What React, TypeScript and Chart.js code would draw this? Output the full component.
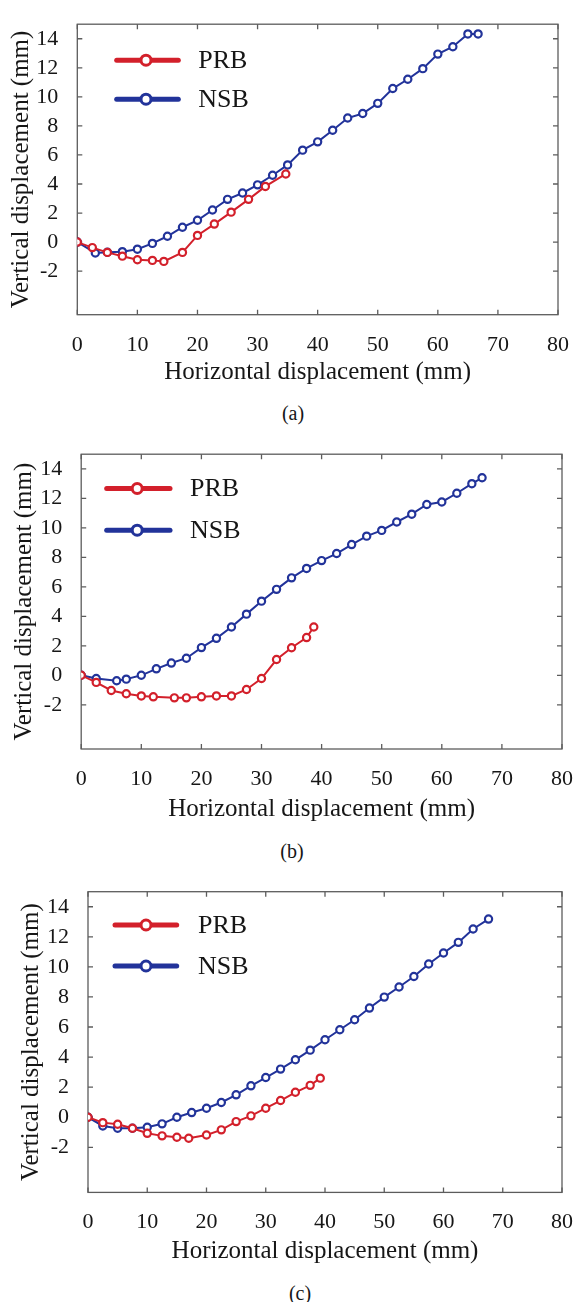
import React, { useEffect, useRef } from 'react';
import { Chart, registerables } from 'chart.js';

Chart.register(...registerables);

// ---------- data ----------
const seriesNames = ['PRB', 'NSB'];
const xTickValues = [0, 10, 20, 30, 40, 50, 60, 70, 80];
const yTickValues = [-2, 0, 2, 4, 6, 8, 10, 12, 14];
const panelCaptions = ['(a)', '(b)', '(c)'];
const xAxisTitle = 'Horizontal displacement (mm)';
const yAxisTitle = 'Vertical displacement (mm)';

// panel (a)
const prbAX = [0, 2.5, 5, 7.5, 10, 12.5, 14.4, 17.5, 20, 22.8, 25.6, 28.5, 31.3, 34.7];
const prbAY = [0, -0.38, -0.71, -0.97, -1.22, -1.26, -1.33, -0.71, 0.46, 1.24, 2.06, 2.94, 3.83, 4.69];
const nsbAX = [0, 3, 5, 7.5, 10, 12.5, 15, 17.5, 20, 22.5, 25, 27.5, 30, 32.5, 35, 37.5, 40, 42.5, 45, 47.5, 50, 52.5, 55, 57.5, 60, 62.5, 65, 66.7];
const nsbAY = [0, -0.75, -0.7, -0.66, -0.49, -0.09, 0.4, 1.02, 1.5, 2.21, 2.94, 3.38, 3.94, 4.6, 5.31, 6.33, 6.9, 7.7, 8.54, 8.85, 9.55, 10.57, 11.21, 11.94, 12.94, 13.45, 14.33, 14.33];

// panel (b)
const prbBX = [0, 2.5, 5, 7.5, 10, 12, 15.5, 17.5, 20, 22.5, 25, 27.5, 30, 32.5, 35, 37.5, 38.7];
const prbBY = [0, -0.48, -1.03, -1.25, -1.4, -1.46, -1.53, -1.53, -1.46, -1.4, -1.4, -0.96, -0.22, 1.07, 1.87, 2.56, 3.28];
const nsbBX = [0, 2.5, 5.9, 7.5, 10, 12.5, 15, 17.5, 20, 22.5, 25, 27.5, 30, 32.5, 35, 37.5, 40, 42.5, 45, 47.5, 50, 52.5, 55, 57.5, 60, 62.5, 65, 66.7];
const nsbBY = [0, -0.22, -0.37, -0.26, 0.0, 0.44, 0.83, 1.16, 1.88, 2.51, 3.28, 4.15, 5.03, 5.83, 6.61, 7.25, 7.78, 8.26, 8.87, 9.44, 9.83, 10.4, 10.93, 11.59, 11.76, 12.35, 13.0, 13.4];

// panel (c)
const prbCX = [0, 2.5, 5, 7.5, 10, 12.5, 15, 17, 20, 22.5, 25, 27.5, 30, 32.5, 35, 37.5, 39.2];
const prbCY = [0, -0.36, -0.47, -0.73, -1.07, -1.24, -1.33, -1.4, -1.18, -0.84, -0.29, 0.09, 0.6, 1.11, 1.66, 2.12, 2.6];
const nsbCX = [0, 2.5, 5, 7.5, 10, 12.5, 15, 17.5, 20, 22.5, 25, 27.5, 30, 32.5, 35, 37.5, 40, 42.5, 45, 47.5, 50, 52.5, 55, 57.5, 60, 62.5, 65, 67.6];
const nsbCY = [0, -0.58, -0.73, -0.73, -0.67, -0.44, 0.0, 0.31, 0.6, 0.98, 1.49, 2.09, 2.64, 3.2, 3.82, 4.46, 5.15, 5.82, 6.48, 7.26, 7.99, 8.66, 9.36, 10.19, 10.92, 11.63, 12.52, 13.18];

const panelSeries = [
  [[prbAX, prbAY], [nsbAX, nsbAY]],
  [[prbBX, prbBY], [nsbBX, nsbBY]],
  [[prbCX, prbCY], [nsbCX, nsbCY]],
];

// ---------- layout / style ----------
const PAGE_W = 582;
const FONT = "'Liberation Serif', 'Times New Roman', serif";
const COLORS = ['#d3202b', '#22339a'];
const TEXT = '#161616';

const layouts = [
  { top: 0, height: 400, plotL: 77.3, plotR: 558, plotT: 13.3, plotB: 314.7, xTitleY: 372.5, yTitleX: 21, capY: 413, capX: 293,
    legend: { lineStart: 39.4, lineEnd: 101, marker: 68.7, text: 121, rows: [36, 75] } },
  { top: 430, height: 400, plotL: 81.2, plotR: 567.5, plotT: 444, plotB: 749, xTitleY: 809, yTitleX: 24, capY: 851, capX: 292,
    legend: { lineStart: 25.5, lineEnd: 88.8, marker: 56, text: 108.8, rows: [34.3, 76] } },
  { top: 860, height: 410, plotL: 88, plotR: 568.3, plotT: 891.7, plotB: 1192.4, xTitleY: 1251, yTitleX: 31, capY: 1293, capX: 300,
    legend: { lineStart: 27, lineEnd: 88.7, marker: 58, text: 110, rows: [33.3, 74.3] } },
];

const frameTicksPlugin = {
  id: 'frameTicks',
  beforeDatasetsDraw(chart: any) {
    const { ctx, chartArea } = chart;
    const { left, right, top, bottom } = chartArea;
    const xs = chart.scales.x;
    const ys = chart.scales.y;
    ctx.save();
    ctx.strokeStyle = '#5c5c5c';
    ctx.lineWidth = 1.3;
    ctx.strokeRect(left, top, right - left, bottom - top);
    const L = 5;
    ctx.beginPath();
    xTickValues.forEach((v) => {
      const px = xs.getPixelForValue(v);
      ctx.moveTo(px, bottom);
      ctx.lineTo(px, bottom - L);
      ctx.moveTo(px, top);
      ctx.lineTo(px, top + L);
    });
    yTickValues.forEach((v) => {
      const py = ys.getPixelForValue(v);
      ctx.moveTo(left, py);
      ctx.lineTo(left + L, py);
      ctx.moveTo(right, py);
      ctx.lineTo(right - L, py);
    });
    ctx.stroke();
    ctx.restore();
  },
};

const insideLegendPlugin = {
  id: 'insideLegend',
  afterDatasetsDraw(chart: any, _args: any, opts: any) {
    const { ctx, chartArea } = chart;
    chart.data.datasets.forEach((ds: any, i: number) => {
      const yy = chartArea.top + opts.rows[i];
      ctx.save();
      ctx.strokeStyle = ds.borderColor;
      ctx.lineWidth = 5;
      ctx.lineCap = 'round';
      ctx.beginPath();
      ctx.moveTo(chartArea.left + opts.lineStart, yy);
      ctx.lineTo(chartArea.left + opts.lineEnd, yy);
      ctx.stroke();
      ctx.beginPath();
      ctx.arc(chartArea.left + opts.marker, yy, 5, 0, Math.PI * 2);
      ctx.fillStyle = '#ffffff';
      ctx.fill();
      ctx.lineWidth = 3;
      ctx.stroke();
      ctx.fillStyle = TEXT;
      ctx.font = `26px ${FONT}`;
      ctx.textAlign = 'left';
      ctx.textBaseline = 'middle';
      ctx.fillText(ds.label, chartArea.left + opts.text, yy + 1);
      ctx.restore();
    });
  },
};

function Panel({ index }: { index: number }) {
  const ref = useRef<HTMLCanvasElement | null>(null);
  const p = layouts[index];

  useEffect(() => {
    if (!ref.current) return;
    const datasets = panelSeries[index].map(([xs, ys], i) => ({
      label: seriesNames[i],
      data: xs.map((x, k) => ({ x, y: ys[k] })),
      borderColor: COLORS[i],
      backgroundColor: COLORS[i],
      borderWidth: 2,
      pointRadius: 3.6,
      pointBorderWidth: 2.2,
      pointBackgroundColor: '#ffffff',
      pointBorderColor: COLORS[i],
      tension: 0,
      fill: false,
    }));
    const chart = new Chart(ref.current, {
      type: 'line',
      data: { datasets },
      plugins: [frameTicksPlugin, insideLegendPlugin],
      options: {
        animation: false,
        responsive: false,
        maintainAspectRatio: false,
        layout: { padding: { top: p.plotT - p.top, right: PAGE_W - p.plotR, left: 0, bottom: 0 } },
        plugins: {
          legend: { display: false },
          tooltip: { enabled: false },
          insideLegend: p.legend,
        } as any,
        scales: {
          x: {
            type: 'linear',
            min: 0,
            max: 80,
            afterBuildTicks: (s: any) => {
              s.ticks = xTickValues.map((v) => ({ value: v }));
            },
            afterFit: (s: any) => {
              s.height = p.top + p.height - p.plotB;
            },
            grid: { display: false },
            border: { display: false },
            ticks: { padding: 9, color: TEXT, font: { family: FONT, size: 22 }, maxRotation: 0, autoSkip: false },
            title: {
              display: true,
              text: xAxisTitle,
              color: TEXT,
              font: { family: FONT, size: 25 },
              padding: { top: 0, bottom: p.top + p.height - p.xTitleY - 15 },
            },
          },
          y: {
            type: 'linear',
            min: -5,
            max: 15,
            afterBuildTicks: (s: any) => {
              s.ticks = yTickValues.map((v) => ({ value: v }));
            },
            afterFit: (s: any) => {
              s.width = p.plotL;
            },
            grid: { display: false },
            border: { display: false },
            ticks: { padding: 11, color: TEXT, font: { family: FONT, size: 22 }, autoSkip: false },
            title: {
              display: true,
              text: yAxisTitle,
              color: TEXT,
              font: { family: FONT, size: 25 },
              padding: { top: p.yTitleX - 15, bottom: 0 },
            },
          },
        },
      } as any,
    });
    return () => chart.destroy();
  }, [index]);

  return (
    <>
      <canvas
        ref={ref}
        width={PAGE_W}
        height={p.height}
        style={{ position: 'absolute', left: 0, top: p.top, width: PAGE_W, height: p.height }}
      />
      <div
        style={{
          position: 'absolute',
          left: p.capX - 30,
          width: 60,
          top: p.capY - 12,
          lineHeight: '24px',
          textAlign: 'center',
          fontFamily: FONT,
          fontSize: 20,
          color: TEXT,
        }}
      >
        {panelCaptions[index]}
      </div>
    </>
  );
}

export default function App() {
  return (
    <div style={{ position: 'absolute', left: 0, top: 0, width: PAGE_W, height: 1302, background: '#fff' }}>
      <Panel index={0} />
      <Panel index={1} />
      <Panel index={2} />
    </div>
  );
}
